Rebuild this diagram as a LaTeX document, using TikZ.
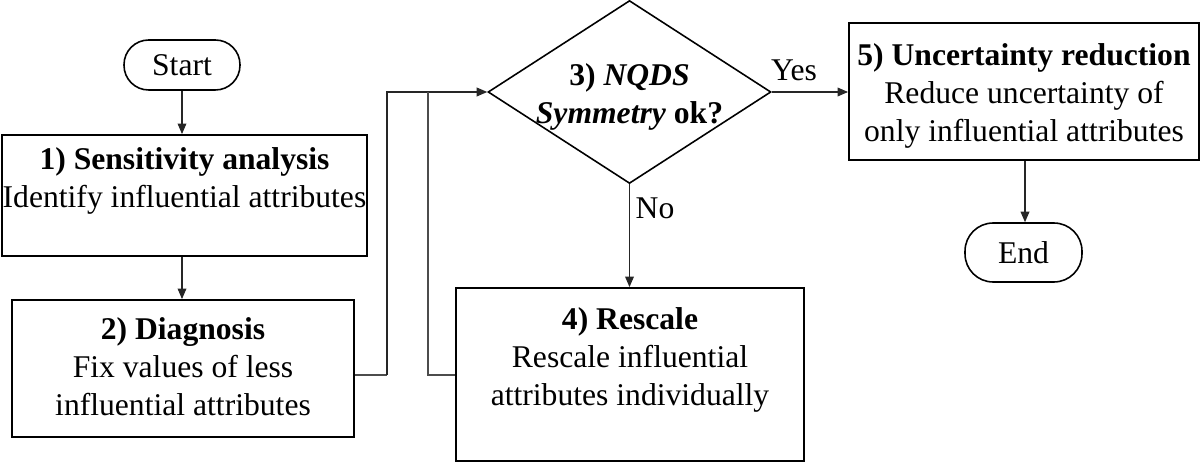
\documentclass[tikz,border=0pt]{standalone}
\usepackage{fontspec}
\setmainfont{Liberation Serif}
\usetikzlibrary{arrows.meta,shapes.geometric}
\tikzset{
  box/.style={draw=black,line width=1.1pt,inner sep=0pt,rectangle},
  term/.style={draw=black,line width=0.9pt,inner sep=0pt,rectangle,rounded corners=14pt},
  txt/.style={align=center,inner sep=0pt,font=\fontsize{18}{21.6}\selectfont},
  conn/.style={draw=black!85,line width=0.6pt,-{Triangle[length=6pt,width=5pt]}},
  plain/.style={draw=black!70,line width=0.6pt},
}
\begin{document}
\begin{tikzpicture}[x=0.02cm,y=-0.02cm]
\useasboundingbox (0,0) rectangle (1200,462);
% nodes
\node[term,minimum width=2.32cm,minimum height=1.0cm] (start) at (182,65) {};
\node[txt] (starttxt) at (182,65) {Start};
\node[box,minimum width=7.30cm,minimum height=2.42cm] (box1) at (184.5,195.5) {};
\node[txt,anchor=north] (box1txt) at (184.5,147) {\textbf{1) Sensitivity analysis}\\Identify influential attributes};
\node[box,minimum width=6.84cm,minimum height=2.74cm] (box2) at (183,368.5) {};
\node[txt] (box2txt) at (183,367) {\textbf{2) Diagnosis}\\Fix values of less\\influential attributes};
\node[draw=black,line width=0.9pt,shape=diamond,inner sep=0pt,minimum width=5.66cm,minimum height=3.66cm] (dia) at (629.5,92) {};
\node[txt,font=\fontsize{18}{21.6}\selectfont\bfseries] (diatxt) at (629.5,97) {3) \textit{NQDS}\\\textit{Symmetry} ok?};
\node[box,minimum width=6.96cm,minimum height=3.46cm] (box4) at (630,374.5) {};
\node[txt,anchor=north] (box4txt) at (630,307) {\textbf{4) Rescale}\\Rescale influential\\attributes individually};
\node[box,minimum width=7.00cm,minimum height=2.74cm] (box5) at (1024,91.5) {};
\node[txt] (box5txt) at (1024,96) {\textbf{5) Uncertainty reduction}\\Reduce uncertainty of\\only influential attributes};
\node[term,minimum width=2.34cm,minimum height=1.18cm,rounded corners=16pt] (end) at (1023.5,252.5) {};
\node[txt] (endtxt) at (1023.5,253) {End};
\node[txt] (yes) at (794,70) {Yes};
\node[txt] (no) at (655,208) {No};
% connectors
\coordinate (loopA) at (387,375);
\coordinate (loopB) at (428,375);
\draw[conn] (start.south -| 182,0) -- (182,0 |- box1.north);
\draw[conn] (box1.south -| 182,0) -- (182,0 |- box2.north);
\draw[plain] (box2.east |- loopA) -- (loopA);
\draw[conn] (loopA) |- (dia.west);
\draw[plain] (box4.west |- loopB) -- (loopB) -- (loopB |- dia.west);
\draw[conn] (dia.east) -- (dia.east -| box5.west);
\draw[conn] (dia.south) -- (dia.south |- box4.north);
\draw[conn] (box5.south -| 1025,0) -- (1025,0 |- end.north);
\end{tikzpicture}
\end{document}
